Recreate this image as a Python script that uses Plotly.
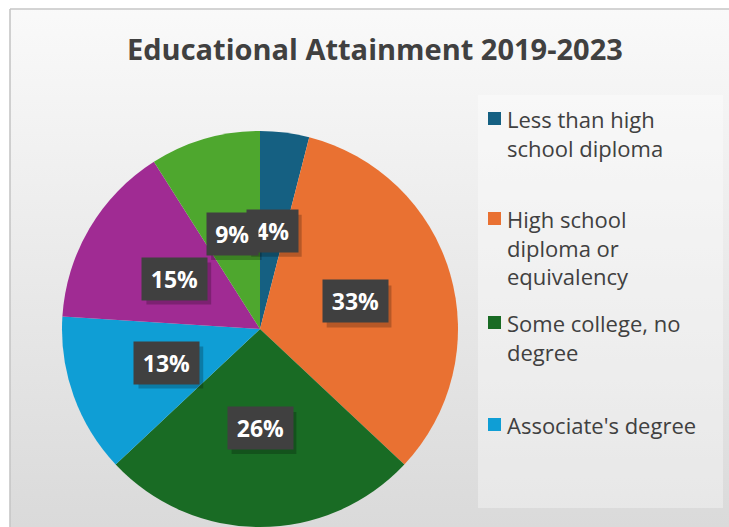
import math
import plotly.graph_objects as go

# ---- data ----
categories = [
    "Less than high school diploma",
    "High school diploma or equivalency",
    "Some college, no degree",
    "Associate's degree",
    "Bachelor's degree",
    "Graduate or professional degree",
]
legend_labels = [
    "Less than high<br>school diploma",
    "High school<br>diploma or<br>equivalency",
    "Some college, no<br>degree",
    "Associate's degree",
]
shares = [4, 33, 26, 13, 15, 9]
colors = ["#156082", "#E97132", "#196B24", "#0F9ED5", "#A02B93", "#4EA72E"]
title = "Educational Attainment 2019-2023"

W, H = 729, 527
font_fam = "Open Sans, Lato, DejaVu Sans, sans-serif"

fig = go.Figure()

# background panel with vertical gradient (pixel coordinates on hidden axes)
fig.add_trace(go.Scatter(
    x=[10, 760, 760, 10, 10], y=[9, 9, 560, 560, 9],
    mode="lines", fill="toself",
    line=dict(color="#c6c6c6", width=1.6),
    fillgradient=dict(type="vertical", start=0, stop=527,
                      colorscale=[[0, "#fafafa"], [1, "#dadada"]]),
    hoverinfo="skip", showlegend=False,
))

# pie geometry
top_px = 131
left_px, right_px = 60, 460
fig.add_trace(go.Pie(
    labels=categories, values=shares, sort=False, direction="clockwise",
    marker=dict(colors=colors, line=dict(width=0)),
    textinfo="none", showlegend=False,
    domain=dict(x=[left_px / W, right_px / W], y=[0, 1 - top_px / H]),
))

r = min(right_px - left_px, H - top_px) / 2
cx = (left_px + right_px) / 2
cy = top_px + r

annotations = []
shapes = []
total = sum(shares)
cum = 0
lab_size = 23
for v in shares:
    mid = (cum + v / 2) / total
    cum += v
    a = 2 * math.pi * mid
    x = cx + 0.5 * r * math.sin(a)
    y = cy - 0.5 * r * math.cos(a)
    pct = f"{round(100 * v / total)}%"
    bw = 0.62 * lab_size * len(pct) + 22
    bh = 42
    # drop shadow
    shapes.append(dict(type="rect", xref="x", yref="y",
                       x0=x - bw / 2 + 4, x1=x + bw / 2 + 4,
                       y0=y - bh / 2 + 5, y1=y + bh / 2 + 5,
                       fillcolor="rgba(0,0,0,0.22)", line=dict(width=0),
                       layer="above"))
    annotations.append(dict(
        x=x, y=y, xref="x", yref="y", text=f"<b>{pct}</b>", showarrow=False,
        font=dict(size=lab_size, color="white", family=font_fam),
        bgcolor="#404040", width=bw, height=bh, borderpad=0,
        align="center", valign="middle",
    ))

# legend (manual, clipped at the chart edge like the reference)
legend_y = [118, 218, 322, 424]
shapes.insert(0, dict(type="rect", xref="x", yref="y", x0=478, x1=723, y0=95, y1=508,
                      fillcolor="rgba(255,255,255,0.35)", line=dict(width=0), layer="above"))
for lab, col, ly in zip(legend_labels, colors, legend_y):
    shapes.append(dict(type="rect", xref="x", yref="y", x0=488, x1=501,
                       y0=ly - 6, y1=ly + 7, fillcolor=col, line=dict(width=0),
                       layer="above"))
    annotations.append(dict(
        x=505, y=ly - 16, xref="x", yref="y", xanchor="left", yanchor="top",
        align="left", text=lab, showarrow=False,
        font=dict(size=22, color="#404040", family=font_fam),
    ))

annotations.append(dict(
    x=375, y=48, xref="x", yref="y", text=f"<b>{title}</b>", showarrow=False,
    font=dict(size=29, color="#404040", family=font_fam),
))

fig.update_layout(
    width=W, height=H, margin=dict(l=0, r=0, t=0, b=0),
    paper_bgcolor="white", plot_bgcolor="rgba(0,0,0,0)",
    xaxis=dict(range=[0, W], visible=False, fixedrange=True),
    yaxis=dict(range=[H, 0], visible=False, fixedrange=True),
    annotations=annotations, shapes=shapes,
)

fig.write_html("out.html", config={"displayModeBar": False},
               post_script="document.body.style.margin='0px';document.body.style.overflow='hidden';")
